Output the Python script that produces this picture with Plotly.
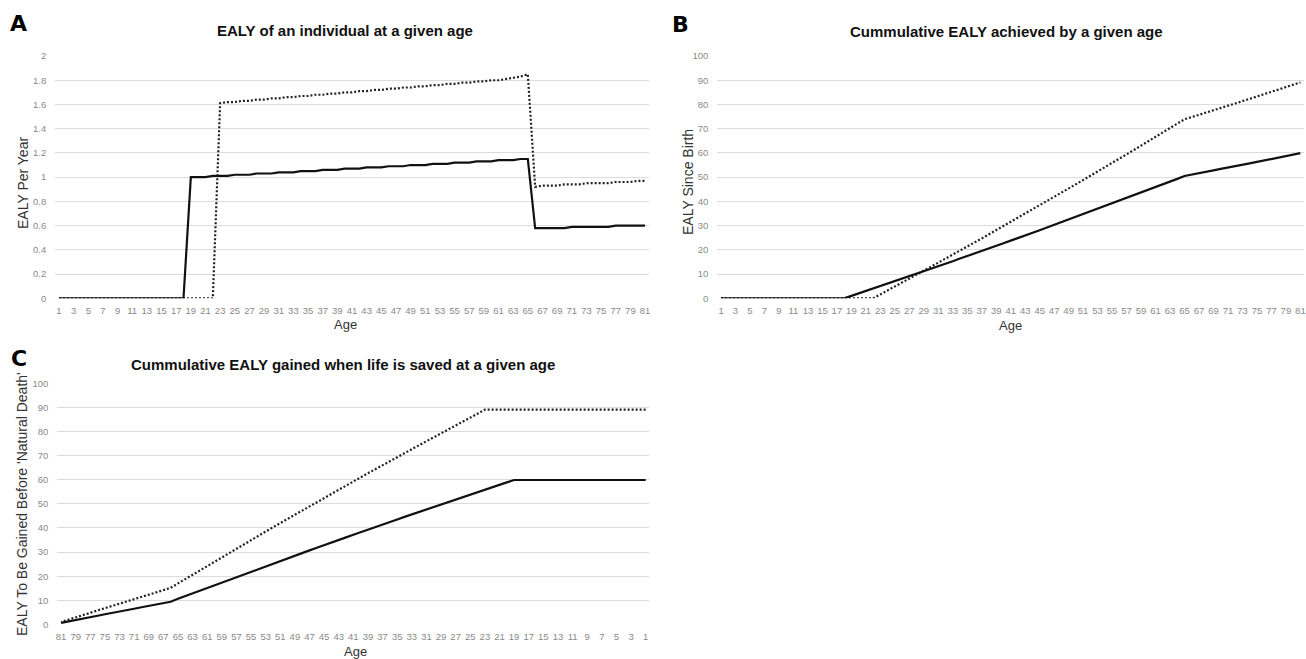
import plotly.graph_objects as go

W, H = 1306, 659

ages = list(range(1, 82))

# Panel A: EALY per year at each age (1..81)
a_solid = [0, 0, 0, 0, 0, 0, 0, 0, 0, 0, 0, 0, 0, 0, 0, 0, 0, 0,
           1.00, 1.00, 1.00, 1.01, 1.01, 1.01, 1.02, 1.02, 1.02, 1.03, 1.03, 1.03,
           1.04, 1.04, 1.04, 1.05, 1.05, 1.05, 1.06, 1.06, 1.06, 1.07, 1.07, 1.07,
           1.08, 1.08, 1.08, 1.09, 1.09, 1.09, 1.10, 1.10, 1.10, 1.11, 1.11, 1.11,
           1.12, 1.12, 1.12, 1.13, 1.13, 1.13, 1.14, 1.14, 1.14, 1.15, 1.15,
           0.58, 0.58, 0.58, 0.58, 0.58, 0.59, 0.59, 0.59, 0.59, 0.59, 0.59,
           0.60, 0.60, 0.60, 0.60, 0.60]
a_dotted = [0, 0, 0, 0, 0, 0, 0, 0, 0, 0, 0, 0, 0, 0, 0, 0, 0, 0, 0, 0, 0, 0,
            1.61, 1.62, 1.62, 1.63, 1.63, 1.64, 1.64, 1.65, 1.65, 1.66, 1.66,
            1.67, 1.67, 1.68, 1.68, 1.69, 1.69, 1.70, 1.70, 1.71, 1.71, 1.72, 1.72,
            1.73, 1.73, 1.74, 1.74, 1.75, 1.75, 1.76, 1.76, 1.77, 1.77, 1.78, 1.78,
            1.79, 1.79, 1.80, 1.80, 1.81, 1.82, 1.83, 1.85,
            0.92, 0.93, 0.93, 0.93, 0.94, 0.94, 0.94, 0.95, 0.95, 0.95, 0.95,
            0.96, 0.96, 0.96, 0.97, 0.97]

# Panel B: cumulative EALY achieved by each age (1..81)
b_solid = [0, 0, 0, 0, 0, 0, 0, 0, 0, 0, 0, 0, 0, 0, 0, 0, 0, 0,
           1.0, 2.0, 3.0, 4.0, 5.0, 6.0, 7.1, 8.1, 9.1, 10.1, 11.2, 12.2, 13.2,
           14.3, 15.3, 16.4, 17.4, 18.5, 19.5, 20.6, 21.6, 22.7, 23.8, 24.8, 25.9,
           27.0, 28.1, 29.2, 30.3, 31.4, 32.5, 33.6, 34.7, 35.8, 36.9, 38.0, 39.1,
           40.2, 41.3, 42.5, 43.6, 44.7, 45.9, 47.0, 48.2, 49.3, 50.5,
           51.0, 51.6, 52.2, 52.8, 53.4, 53.9, 54.5, 55.1, 55.7, 56.3, 56.9,
           57.5, 58.1, 58.7, 59.3, 59.9]
b_dotted = [0, 0, 0, 0, 0, 0, 0, 0, 0, 0, 0, 0, 0, 0, 0, 0, 0, 0, 0, 0, 0, 0,
            1.6, 3.2, 4.9, 6.5, 8.1, 9.8, 11.4, 13.0, 14.7, 16.4, 18.0, 19.7,
            21.4, 23.0, 24.7, 26.4, 28.1, 29.8, 31.5, 33.2, 34.9, 36.6, 38.4,
            40.1, 41.8, 43.6, 45.3, 47.0, 48.8, 50.6, 52.3, 54.1, 55.9, 57.6,
            59.4, 61.2, 63.0, 64.8, 66.6, 68.4, 70.2, 72.1, 73.9,
            74.8, 75.8, 76.7, 77.6, 78.6, 79.5, 80.4, 81.4, 82.3, 83.3, 84.2,
            85.2, 86.2, 87.1, 88.1, 89.1]

# Panel C: EALY still to be gained when life is saved at each age (1..81)
c_solid = [59.9, 59.9, 59.9, 59.9, 59.9, 59.9, 59.9, 59.9, 59.9, 59.9,
           59.9, 59.9, 59.9, 59.9, 59.9, 59.9, 59.9, 59.9, 59.9,
           58.9, 57.9, 56.9, 55.9, 54.9, 53.9, 52.8, 51.8, 50.8, 49.8, 48.7,
           47.7, 46.7, 45.6, 44.6, 43.5, 42.5, 41.4, 40.4, 39.3, 38.3, 37.2,
           36.1, 35.1, 34.0, 32.9, 31.8, 30.7, 29.6, 28.5, 27.4, 26.3, 25.2,
           24.1, 23.0, 21.9, 20.8, 19.7, 18.6, 17.4, 16.3, 15.2, 14.0, 12.9,
           11.7, 10.6, 9.4, 8.9, 8.3, 7.7, 7.1, 6.5, 6.0, 5.4, 4.8, 4.2, 3.6,
           3.0, 2.4, 1.8, 1.2, 0.6]
c_dotted = [89.1, 89.1, 89.1, 89.1, 89.1, 89.1, 89.1, 89.1, 89.1, 89.1,
            89.1, 89.1, 89.1, 89.1, 89.1, 89.1, 89.1, 89.1, 89.1, 89.1,
            89.1, 89.1, 89.1,
            87.4, 85.8, 84.2, 82.6, 80.9, 79.3, 77.7, 76.0, 74.4, 72.7, 71.0,
            69.4, 67.7, 66.0, 64.3, 62.7, 61.0, 59.3, 57.6, 55.9, 54.1, 52.4,
            50.7, 49.0, 47.2, 45.5, 43.8, 42.0, 40.3, 38.5, 36.7, 35.0, 33.2,
            31.4, 29.6, 27.9, 26.1, 24.3, 22.5, 20.7, 18.8, 17.0, 15.2, 14.2,
            13.3, 12.4, 11.4, 10.5, 9.6, 8.6, 7.7, 6.7, 5.8, 4.8, 3.9, 2.9,
            1.9, 1.0]

titles = ["EALY of an individual at a given age",
          "Cummulative EALY achieved by a given age",
          "Cummulative EALY gained when life is saved at a given age"]
ytitles = ["EALY Per Year", "EALY Since Birth",
           "EALY To Be Gained Before 'Natural Death'"]
panel_letters = ["A", "B", "C"]
xtitle = "Age"


def px(x):
    return x / W


def py(y):
    return 1 - y / H


fig = go.Figure()

solid_line = dict(color="#111111", width=2.2)
dot_line = dict(color="#222222", width=2.2, dash="2px,2px")

series = [(a_solid, a_dotted, "x", "y"),
          (b_solid, b_dotted, "x2", "y2"),
          (c_solid, c_dotted, "x3", "y3")]
for s, d, xa, ya in series:
    fig.add_trace(go.Scatter(x=ages, y=d, mode="lines", line=dot_line,
                             xaxis=xa, yaxis=ya, showlegend=False,
                             hoverinfo="skip"))
    fig.add_trace(go.Scatter(x=ages, y=s, mode="lines", line=solid_line,
                             xaxis=xa, yaxis=ya, showlegend=False,
                             hoverinfo="skip"))

tickfont = dict(family="Liberation Sans, Arial", size=9.5, color="#8a8a8a")
grid = "#dcdcdc"

xcommon = dict(tickmode="linear", tick0=1, dtick=2, showgrid=False,
               zeroline=False, showline=False, ticks="", tickfont=tickfont,
               ticklabelstandoff=5, fixedrange=True, automargin=False)
ycommon = dict(showgrid=True, gridcolor=grid, gridwidth=1, zeroline=False,
               showline=False, ticks="", tickfont=tickfont,
               ticklabelstandoff=8, fixedrange=True, automargin=False)

fig.update_layout(
    template="none",
    width=W, height=H,
    margin=dict(l=0, r=0, t=0, b=0, pad=0, autoexpand=False),
    paper_bgcolor="white", plot_bgcolor="white",
    xaxis=dict(domain=[px(55.3), px(648.7)], range=[0.5, 81.5],
               anchor="y", **xcommon),
    yaxis=dict(domain=[py(298.3), py(56)], range=[0, 2], dtick=0.2,
               tick0=0, anchor="x", **ycommon),
    xaxis2=dict(domain=[px(717.4), px(1304)], range=[0.5, 81.5],
                anchor="y2", **xcommon),
    yaxis2=dict(domain=[py(298.3), py(56)], range=[0, 100], dtick=10,
                tick0=0, anchor="x2", **ycommon),
    xaxis3=dict(domain=[px(57.4), px(649.3)], range=[81.5, 0.5],
                anchor="y3", **xcommon),
    yaxis3=dict(domain=[py(624.4), py(383.3)], range=[0, 100], dtick=10,
                tick0=0, anchor="x3", **ycommon),
)

ann = []
title_font = dict(family="Liberation Sans, Arial", size=15, color="#111111")
letter_font = dict(family="DejaVu Sans, Liberation Sans", size=22,
                   color="#000000")
axis_font = dict(family="Liberation Sans, Arial", size=14, color="#333333")

title_pos = [(345, 31), (1006, 32), (343, 364)]
letter_pos = [(18, 24), (680, 25), (19, 359)]
ytitle_pos = [(23, 183), (688, 182), (22, 504)]
age_pos = [(345, 324), (1010, 325), (355, 651)]

for i in range(3):
    ann.append(dict(text="<b>" + titles[i] + "</b>", x=px(title_pos[i][0]),
                    y=py(title_pos[i][1]), xref="paper", yref="paper",
                    showarrow=False, xanchor="center", yanchor="middle",
                    font=title_font))
    ann.append(dict(text="<b>" + panel_letters[i] + "</b>",
                    x=px(letter_pos[i][0]), y=py(letter_pos[i][1]),
                    xref="paper", yref="paper", showarrow=False,
                    xanchor="center", yanchor="middle", font=letter_font))
    ann.append(dict(text=ytitles[i], x=px(ytitle_pos[i][0]),
                    y=py(ytitle_pos[i][1]), xref="paper", yref="paper",
                    showarrow=False, xanchor="center", yanchor="middle",
                    textangle=-90, font=axis_font))
    ann.append(dict(text=xtitle, x=px(age_pos[i][0]), y=py(age_pos[i][1]),
                    xref="paper", yref="paper", showarrow=False,
                    xanchor="center", yanchor="middle",
                    font=dict(family="Liberation Sans, Arial", size=13,
                              color="#333333")))

fig.update_layout(annotations=ann)

fig.write_html(
    "out.html",
    config={"displayModeBar": False},
    post_script=("document.body.style.margin='0';"
                 "document.body.style.padding='0';"
                 "document.body.style.overflow='hidden';"))
